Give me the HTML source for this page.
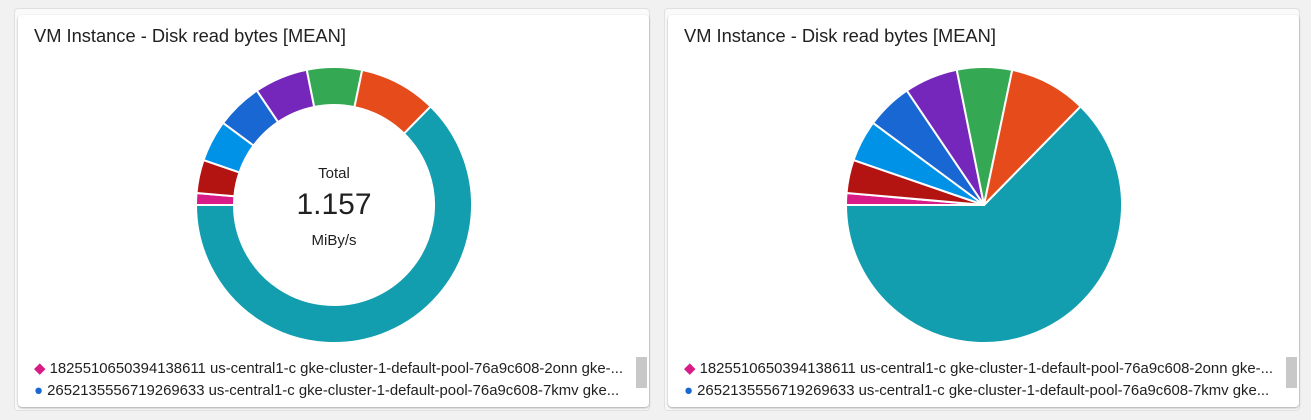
<!DOCTYPE html>
<html><head><meta charset="utf-8"><style>
body{margin:0;width:1311px;height:420px;background:#f1f1f1;font-family:"Liberation Sans",sans-serif;position:relative;overflow:hidden}
.outer{position:absolute;top:8px;width:636px;height:403px;background:#fafafa;border:1px solid #e0e0e0;border-radius:4px;box-sizing:border-box}
.card{position:absolute;top:15px;width:631px;height:392px;background:#fff;border-radius:4px;box-shadow:0 1px 2px rgba(0,0,0,.35)}
.title{position:absolute;left:16px;top:10px;font-size:18.3px;color:#212121}
.leg{position:absolute;left:16px;font-size:14.9px;color:#212121;white-space:nowrap}
.sb{position:absolute;left:618px;top:342px;width:11px;height:31px;background:#c8c8c8}
svg{position:absolute;left:0;top:0}
</style></head><body>
<div class="outer" style="left:14px"></div>
<div class="outer" style="left:664px"></div>
<div class="card" style="left:18px">
<div class="title">VM Instance - Disk read bytes [MEAN]</div>
<div class="leg" style="top:344px"><span style="color:#d81b87">◆</span> 1825510650394138611 us-central1-c gke-cluster-1-default-pool-76a9c608-2onn gke-...</div>
<div class="leg" style="top:368px"><span style="color:#1967d2">●</span> 2652135556719269633 us-central1-c gke-cluster-1-default-pool-76a9c608-7kmv gke...</div>
<div class="sb"></div>
<div style="position:absolute;left:0;width:631px;top:150px;text-align:center;font-size:15px;color:#212121">
<div style="position:absolute;left:316px;transform:translateX(-50%)">Total</div>
<div style="position:absolute;left:316px;top:23px;transform:translateX(-50%);font-size:30px">1.157</div>
<div style="position:absolute;left:316px;top:67px;transform:translateX(-50%)">MiBy/s</div>
</div>
</div>
<div class="card" style="left:668px">
<div class="title">VM Instance - Disk read bytes [MEAN]</div>
<div class="leg" style="top:344px"><span style="color:#d81b87">◆</span> 1825510650394138611 us-central1-c gke-cluster-1-default-pool-76a9c608-2onn gke-...</div>
<div class="leg" style="top:368px"><span style="color:#1967d2">●</span> 2652135556719269633 us-central1-c gke-cluster-1-default-pool-76a9c608-7kmv gke...</div>
<div class="sb"></div>
</div>
<svg id="s" width="1311" height="420"></svg>
<script>
var segs=[[44.4,270,'#129eaf'],[270,275,'#d81b87'],[275,289,'#b31412'],[289,306.5,'#0092e7'],[306.5,326,'#1967d2'],[326,348.6,'#7627bb'],[348.6,371.8,'#34a853'],[371.8,404.4,'#e64b1b']];
function pt(cx,cy,r,a){a=a*Math.PI/180;return [cx+r*Math.sin(a),cy-r*Math.cos(a)];}
var h='';
function draw(cx,cy,R,r){segs.forEach(function(s){var a=s[0],b=s[1],l=(b-a)>180?1:0;var p1=pt(cx,cy,R,a),p2=pt(cx,cy,R,b);var d='M'+p1+' A'+R+' '+R+' 0 '+l+' 1 '+p2;
if(r>0){var q2=pt(cx,cy,r,b),q1=pt(cx,cy,r,a);d+=' L'+q2+' A'+r+' '+r+' 0 '+l+' 0 '+q1+' Z';}else d+=' L'+cx+' '+cy+' Z';
h+='<path d="'+d+'" fill="'+s[2]+'" stroke="#fff" stroke-width="2" stroke-linejoin="round"/>';});}
draw(334,205,138,100);draw(984,205,138,0);
document.getElementById('s').innerHTML=h;
</script>
</body></html>
